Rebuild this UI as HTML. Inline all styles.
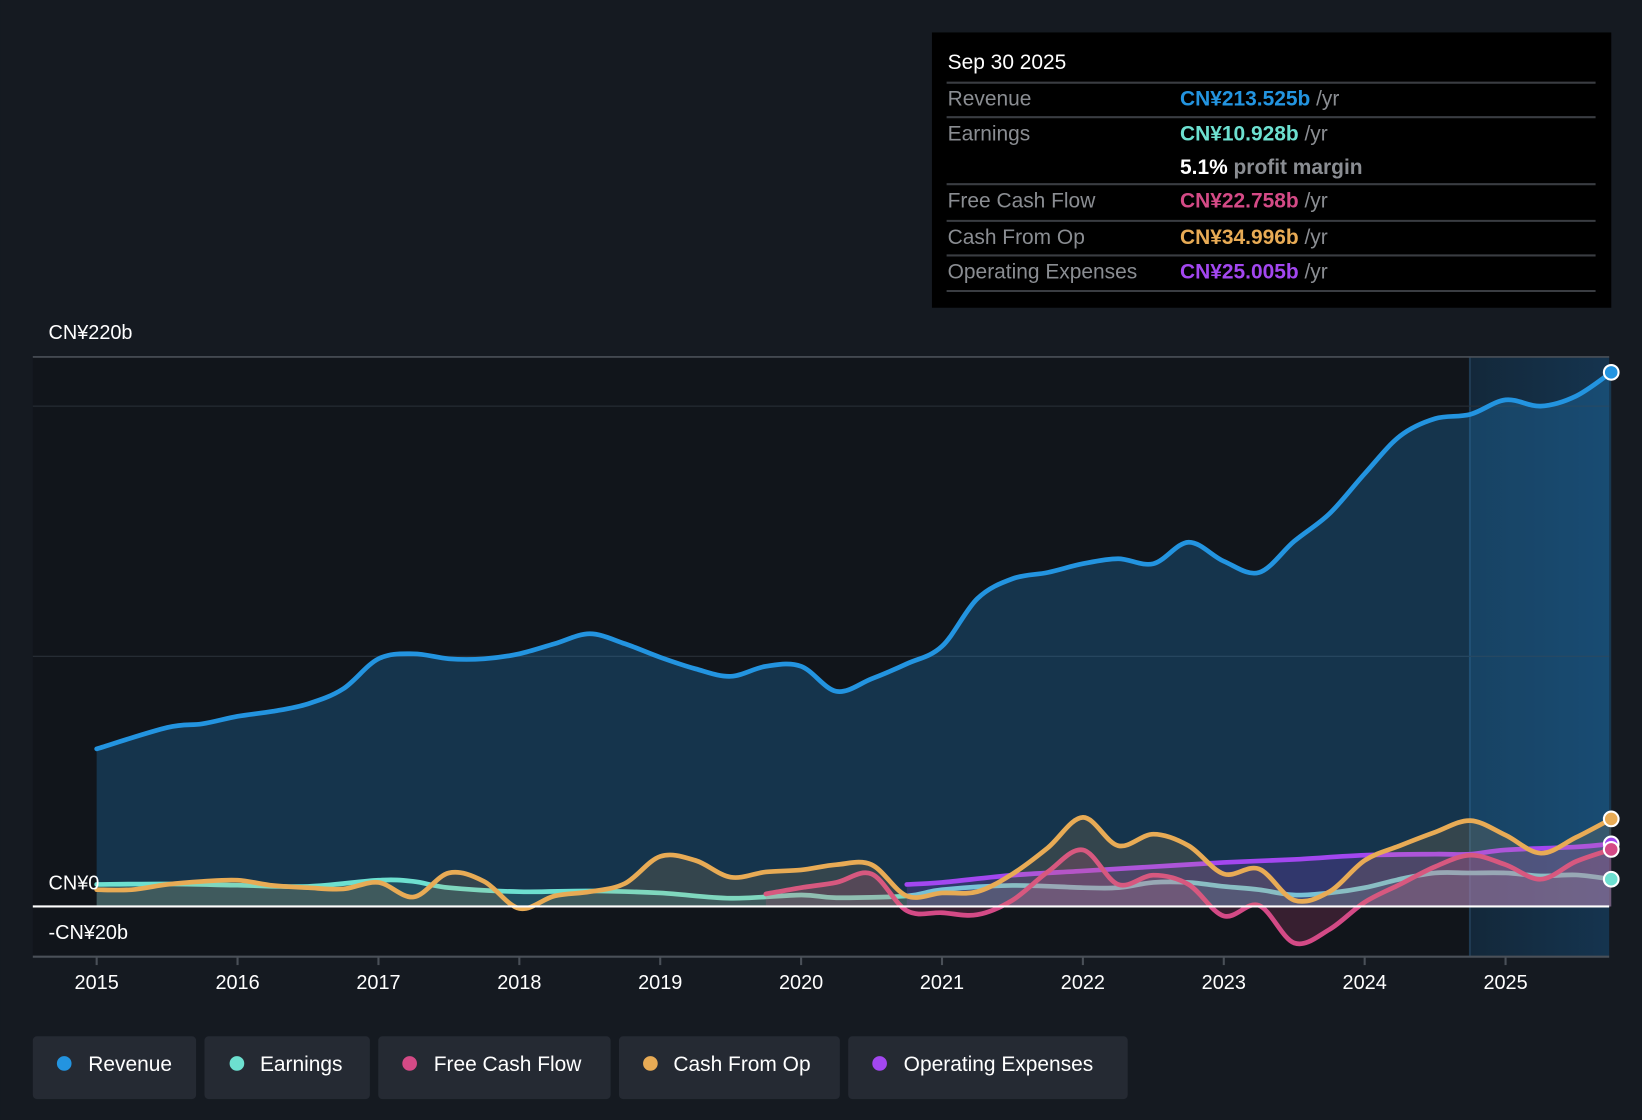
<!DOCTYPE html>
<html><head><meta charset="utf-8">
<style>
html,body{margin:0;padding:0;background:#151a21;}
svg{display:block;font-family:"Liberation Sans",sans-serif;}
</style></head>
<body>
<svg id="chart" width="1642" height="1120" viewBox="0 0 1568 1070" xmlns="http://www.w3.org/2000/svg">
<defs>
<linearGradient id="hl" x1="0" x2="1" y1="0" y2="0"><stop offset="0" stop-color="#13283a"/><stop offset="1" stop-color="#15344f"/></linearGradient>
</defs>
<rect width="1568" height="1070" fill="#151a21"/>
<rect x="31" y="341" width="1506" height="573" fill="#11151b"/>
<rect x="1404" y="341" width="133" height="573" fill="url(#hl)"/>
<line x1="1404" y1="341" x2="1404" y2="914" stroke="#1f3a52" stroke-width="2"/>
<g id="grid"></g>
<g id="series"></g>
<g id="axes"></g>
<text x="46" y="324" fill="#fff" font-size="19">CN¥220b</text>
<text x="46" y="850" fill="#fff" font-size="19">CN¥0</text>
<text x="46" y="897" fill="#fff" font-size="19">-CN¥20b</text>

<g>
<rect x="890" y="31" width="649" height="263" fill="#000"/>
<text x="905" y="66" fill="#fff" font-size="20">Sep 30 2025</text>
<g stroke="#3a3d42" stroke-width="2">
<line x1="904" x2="1524" y1="79" y2="79"/><line x1="904" x2="1524" y1="112" y2="112"/>
<line x1="904" x2="1524" y1="176" y2="176"/><line x1="904" x2="1524" y1="211" y2="211"/>
<line x1="904" x2="1524" y1="244" y2="244"/><line x1="904" x2="1524" y1="278" y2="278"/>
</g>
<g font-size="20" fill="#8a8d92">
<text x="905" y="101">Revenue</text><text x="905" y="134">Earnings</text>
<text x="905" y="198">Free Cash Flow</text><text x="905" y="233">Cash From Op</text>
<text x="905" y="266">Operating Expenses</text>
</g>
<g font-size="20" font-weight="bold">
<text x="1127" y="101" fill="#2394e0">CN¥213.525b <tspan fill="#8a8d92" font-weight="normal">/yr</tspan></text>
<text x="1127" y="134" fill="#6de0d0">CN¥10.928b <tspan fill="#8a8d92" font-weight="normal">/yr</tspan></text>
<text x="1127" y="166" fill="#fff">5.1% <tspan fill="#8a8d92">profit margin</tspan></text>
<text x="1127" y="198" fill="#d44a86">CN¥22.758b <tspan fill="#8a8d92" font-weight="normal">/yr</tspan></text>
<text x="1127" y="233" fill="#e8ab55">CN¥34.996b <tspan fill="#8a8d92" font-weight="normal">/yr</tspan></text>
<text x="1127" y="266" fill="#a347f0">CN¥25.005b <tspan fill="#8a8d92" font-weight="normal">/yr</tspan></text>
</g>
</g>

<g id="legend" font-size="20" fill="#fff">
<g><rect x="31" y="990" width="156" height="60" rx="4" fill="#252a33"/><circle cx="61" cy="1016" r="7" fill="#2394e0"/><text x="84" y="1023">Revenue</text></g>
<g><rect x="195" y="990" width="158" height="60" rx="4" fill="#252a33"/><circle cx="226" cy="1016" r="7" fill="#6de0d0"/><text x="248" y="1023">Earnings</text></g>
<g><rect x="361" y="990" width="222" height="60" rx="4" fill="#252a33"/><circle cx="391" cy="1016" r="7" fill="#d44a86"/><text x="414" y="1023">Free Cash Flow</text></g>
<g><rect x="591" y="990" width="211" height="60" rx="4" fill="#252a33"/><circle cx="621" cy="1016" r="7" fill="#e8ab55"/><text x="643" y="1023">Cash From Op</text></g>
<g><rect x="810" y="990" width="267" height="60" rx="4" fill="#252a33"/><circle cx="840" cy="1016" r="7" fill="#a347f0"/><text x="863" y="1023">Operating Expenses</text></g>
</g>
</svg>
<script>
const years=[2015,2016,2017,2018,2019,2020,2021,2022,2023,2024,2025];
const gridValues=[200,100];
const revT=[2015,2015.5,2015.75,2016,2016.25,2016.5,2016.75,2017,2017.25,2017.5,2017.75,2018,2018.25,2018.5,2018.75,2019,2019.25,2019.5,2019.75,2020,2020.25,2020.5,2020.75,2021,2021.25,2021.5,2021.75,2022,2022.25,2022.5,2022.75,2023,2023.25,2023.5,2023.75,2024,2024.25,2024.5,2024.75,2025,2025.25,2025.5,2025.75];
const revenue=[63,71.5,73,76,78,81,87,99,101,99,99,101,105,109,105,99.6,95,92,96,96,86,91,97,104,123,131,133.5,137,139,137,145.6,138,133.5,146,157,173,188,195,196.7,202.5,200,204,213.5];
const earnT=[2015,2015.5,2016,2016.5,2017,2017.25,2017.5,2018,2018.5,2019,2019.5,2020,2020.25,2020.75,2021,2021.5,2022,2022.25,2022.5,2022.75,2023,2023.25,2023.5,2023.75,2024,2024.25,2024.5,2024.75,2025,2025.25,2025.5,2025.75];
const earnings=[8.8,9,8.5,8,10.5,10,7.5,5.9,6.2,5.4,3.3,4.6,3.5,4.2,6.7,8.4,7.5,7.5,9.6,9.6,8,6.7,4.6,5.4,7.5,10.9,13.4,13.4,13.4,12.2,12.6,10.9];
const fcfT=[2019.75,2020,2020.25,2020.5,2020.75,2021,2021.25,2021.5,2021.75,2022,2022.25,2022.5,2022.75,2023,2023.25,2023.5,2023.75,2024,2024.25,2024.5,2024.75,2025,2025.25,2025.5,2025.75];
const fcf=[5,7.5,9.6,13,-1.7,-2.5,-3.3,2.5,13.8,22.6,8.8,12.5,8.8,-3.8,0.4,-14.6,-9.2,1.7,8.8,15.9,20.5,16.7,10.9,18,22.8];
const cfoT=[2015,2015.25,2015.5,2015.75,2016,2016.25,2016.5,2016.75,2017,2017.25,2017.5,2017.75,2018,2018.25,2018.5,2018.75,2019,2019.25,2019.5,2019.75,2020,2020.25,2020.5,2020.75,2021,2021.25,2021.5,2021.75,2022,2022.25,2022.5,2022.75,2023,2023.25,2023.5,2023.75,2024,2024.25,2024.5,2024.75,2025,2025.25,2025.5,2025.75];
const cfo=[6.7,6.7,8.8,10,10.5,8.4,7.5,7,9.6,3.8,13.4,10,-0.8,4.2,5.9,9.2,20,18.4,11.7,13.8,14.6,16.7,16.7,4.2,5.4,5.9,13,23.4,35.6,24.3,28.9,24.3,13,15,2.5,5.9,18.4,24.3,29.7,34.3,28.5,21.3,27.6,35];
const opexT=[2020.75,2021,2021.5,2022,2022.5,2023,2023.5,2024,2024.5,2024.75,2025,2025.5,2025.75];
const opex=[8.8,9.6,12.5,14.2,15.9,17.6,18.8,20.5,20.9,20.9,22.6,23.8,25];

const NS='http://www.w3.org/2000/svg';
const xS=t=>92+(t-2015)*134.6;
const yS=v=>866-2.39*v;
function mk(tag,attrs,parent){const e=document.createElementNS(NS,tag);for(const k in attrs)e.setAttribute(k,attrs[k]);parent.appendChild(e);return e;}
function smooth(pts){let d='M'+pts[0][0]+','+pts[0][1];for(let i=0;i<pts.length-1;i++){const p0=pts[i-1]||pts[i],p1=pts[i],p2=pts[i+1],p3=pts[i+2]||p2;const c1x=p1[0]+(p2[0]-p0[0])/6,c1y=p1[1]+(p2[1]-p0[1])/6,c2x=p2[0]-(p3[0]-p1[0])/6,c2y=p2[1]-(p3[1]-p1[1])/6;d+=`C${c1x},${c1y},${c2x},${c2y},${p2[0]},${p2[1]}`;}return d;}
const gridG=document.getElementById('grid');
gridValues.forEach(v=>{const l=mk('line',{x1:31,x2:1537,y1:yS(v),y2:yS(v),stroke:'#2a3038','stroke-width':1},gridG);

});
const topBorder=mk('line',{x1:31,x2:1537,y1:341,y2:341,stroke:'#4a5058','stroke-width':1.5},gridG);


const seriesG=document.getElementById('series');
const seriesDefs=[['revenue',revT,revenue,'#2394e0',0.25],['earnings',earnT,earnings,'#6de0d0',0.15],['opex',opexT,opex,'#a347f0',0.2],['fcf',fcfT,fcf,'#d44a86',0.2],['cfo',cfoT,cfo,'#e8ab55',0.15]];
seriesDefs.forEach(([n,T,V,c,op])=>{const pts=T.map((t,i)=>[xS(t),yS(V[i])]);const d=smooth(pts);
const a=mk('path',{d:d+`L${pts[pts.length-1][0]},${yS(0)}L${pts[0][0]},${yS(0)}Z`,fill:c,'fill-opacity':op},seriesG);


const l=mk('path',{d:d,fill:'none',stroke:c,'stroke-width':4.5,'stroke-linejoin':'round','stroke-linecap':'round'},seriesG);


});
seriesDefs.forEach(([n,T,V,c])=>{const dot=mk('circle',{cx:xS(T[T.length-1]),cy:yS(V[V.length-1]),r:7,fill:c,stroke:'#fff','stroke-width':2},seriesG);

});
const axesG=document.getElementById('axes');
const zeroLine=mk('line',{x1:31,x2:1537,y1:yS(0),y2:yS(0),stroke:'#fff','stroke-width':2},axesG);


const xAxis=mk('line',{x1:31,x2:1537,y1:914,y2:914,stroke:'#4a5058','stroke-width':2},axesG);


years.forEach(y=>{mk('line',{x1:xS(y),x2:xS(y),y1:914,y2:922,stroke:'#4a5058','stroke-width':2},axesG);
const t=mk('text',{x:xS(y),y:945,fill:'#fff','font-size':19,'text-anchor':'middle'},axesG);t.textContent=y;

});
</script>
</body></html>
